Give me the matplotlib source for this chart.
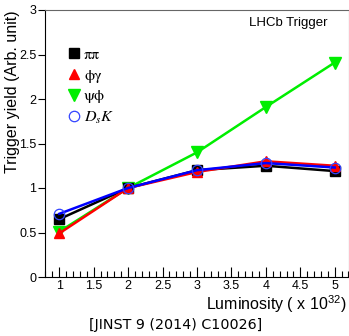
import matplotlib
matplotlib.use("Agg")
import matplotlib.pyplot as plt
from matplotlib.ticker import MultipleLocator

lumi = [1, 2, 3, 4, 5]
pipi = [0.65, 1.0, 1.2, 1.25, 1.19]
phigamma = [0.49, 1.0, 1.18, 1.30, 1.25]
psiphi = [0.51, 1.0, 1.40, 1.91, 2.41]
dsk = [0.71, 1.0, 1.2, 1.28, 1.23]
labels = ["ππ", "ϕγ", "ψϕ", r"$D_sK$"]

plt.rcParams['font.family'] = ['Liberation Sans', 'DejaVu Sans']
plt.rcParams['mathtext.fontset'] = 'stix'

fig = plt.figure(figsize=(3.49, 3.36), dpi=100)
ax = fig.add_axes([45.5/349, 1 - 277/336, (348.5 - 45.5)/349, (277 - 10)/336])

ax.plot(lumi, pipi, color='black', lw=1.8, marker='s', ms=7, mfc='black', mec='black', label=labels[0], zorder=3)
ax.plot(lumi, phigamma, color='red', lw=1.8, marker='^', ms=7.5, mfc='red', mec='red', label=labels[1], zorder=4)
ax.plot(lumi, psiphi, color='#00ee00', lw=1.8, marker='v', ms=8, mfc='#00ee00', mec='#00ee00', label=labels[2], zorder=2)
ax.plot(lumi, dsk, color='blue', lw=1.8, marker='o', ms=7.5, mfc='none', mec='#3344ff', mew=0.9, label=labels[3], zorder=5)

ax.set_xlim(0.8, 5.2)
ax.set_ylim(0, 3)
ax.xaxis.set_minor_locator(MultipleLocator(0.1))
ax.set_xticks([1, 1.5, 2, 2.5, 3, 3.5, 4, 4.5, 5])
ax.set_xticklabels(['1', '1.5', '2', '2.5', '3', '3.5', '4', '4.5', '5'])
ax.set_yticks([0, 0.5, 1, 1.5, 2, 2.5, 3])
ax.set_yticklabels(['0', '0.5', '1', '1.5', '2', '2.5', '3'])
ax.tick_params(axis='x', which='major', direction='in', length=7, width=0.8, labelsize=9, pad=2, top=False)
ax.tick_params(axis='x', which='minor', direction='in', length=4, width=0.8, top=False)
ax.tick_params(axis='y', which='major', direction='out', length=5, width=0.8, labelsize=9, pad=1.5, right=False)
for s in ax.spines.values():
    s.set_linewidth(0.8)
ax.spines['top'].set_color('#666666')
ax.spines['right'].set_color('#666666')

fig.text(13/349, 1 - 10/336, "Trigger yield (Arb. unit)", rotation=90, ha='center', va='top',
         fontsize=11.5)
fig.text(347/349, 1 - 308.5/336, r"Luminosity ( x 10$^{\mathregular{32}}$)", ha='right', va='baseline',
         fontsize=11.5)

ax.text(0.93, 0.975, "LHCb Trigger", transform=ax.transAxes, ha='right', va='top', fontsize=9.5)

leg = ax.legend(loc='upper left', bbox_to_anchor=(0.035, 0.9), frameon=False,
                prop={'family': ['STIXGeneral', 'DejaVu Serif'], 'size': 11.5},
                handlelength=0.9, handletextpad=0.15, labelspacing=0.4, borderpad=0.2)
for line in leg.get_lines():
    line.set_linestyle('none')

fig.text(176/349, 1 - 325/336, "[JINST 9 (2014) C10026]", ha='center', va='center', fontsize=10.3,
         family='DejaVu Sans')

fig.savefig("out.png", dpi=100)
